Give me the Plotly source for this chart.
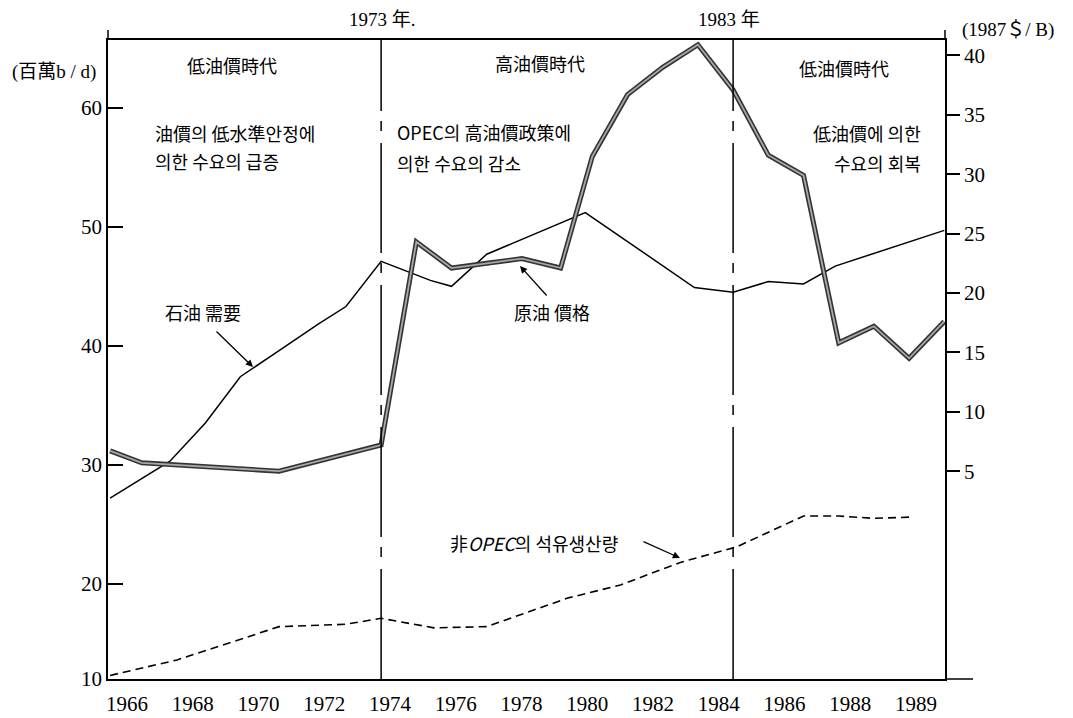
import plotly.graph_objects as go

# ---------------- data ----------------
# x positions are years on the chart's own year scale (1973 / 1983 divider lines)
demand_years = [1965.3, 1967, 1968, 1969, 1970.1, 1971.2, 1972, 1973, 1974.4, 1975, 1976, 1978.8,
                1981.9, 1983, 1984, 1985, 1985.9, 1989]
demand_mbd = [27.2, 30.3, 33.5, 37.4, 39.6, 41.8, 43.3, 47.1, 45.5, 45.0, 47.7, 51.2,
              44.9, 44.5, 45.4, 45.2, 46.7, 49.7]

price_years = [1965.3, 1966.2, 1970.1, 1973, 1974, 1975, 1976, 1977, 1978.1, 1979, 1980, 1981,
               1982, 1983, 1984, 1985, 1986, 1987, 1988, 1989]
price_1987usd = [6.7, 5.7, 5.0, 7.2, 24.3, 22.1, 22.5, 22.9, 22.1, 31.5, 36.7, 39.0,
                 40.9, 37.1, 31.6, 29.9, 15.8, 17.2, 14.5, 17.6]

nonopec_years = [1965.3, 1967.2, 1970.1, 1972, 1973, 1974.5, 1976, 1978.3, 1979.8, 1981.5,
                 1983.1, 1985, 1986, 1987, 1988]
nonopec_mbd = [12.3, 13.6, 16.4, 16.6, 17.1, 16.3, 16.4, 18.8, 19.9, 21.8,
               23.1, 25.7, 25.7, 25.5, 25.6]

era_years = [1973, 1983]
era_labels = ["1973 年.", "1983 年"]

x_tick_labels = ["1966", "1968", "1970", "1972", "1974", "1976", "1978", "1980",
                 "1982", "1984", "1986", "1988", "1989"]
left_tick_labels = ["10", "20", "30", "40", "50", "60"]
left_tick_vals = [12, 20, 30, 40, 50, 60]          # bottom of the (compressed) axis is labelled 10
right_tick_vals = [5, 10, 15, 20, 25, 30, 35, 40]

# ---------------- layout helpers ----------------
# page has an 8px body margin, so the figure is drawn 8px in from the window corner
OFF = 8
W, H = 1073 - OFF, 718 - OFF
L, R, T, B = 108, 945, 40, 679          # plot area in window pixels


def fx(px):
    return (px - L) / (R - L)


def fy(py):
    return (B - py) / (B - T)


NUM_FONT = "Liberation Serif, Noto Sans CJK KR, serif"
TXT_FONT = "Noto Sans CJK KR, Liberation Serif, sans-serif"

fig = go.Figure()

# non-OPEC production (dashed)
fig.add_trace(go.Scatter(x=nonopec_years, y=nonopec_mbd, mode="lines",
                         line=dict(color="black", width=1.6, dash="8px,5px"),
                         showlegend=False, hoverinfo="skip"))
# oil demand (thin solid)
fig.add_trace(go.Scatter(x=demand_years, y=demand_mbd, mode="lines",
                         line=dict(color="black", width=1.5),
                         showlegend=False, hoverinfo="skip"))
# crude price (thick double line) on right axis
fig.add_trace(go.Scatter(x=price_years, y=price_1987usd, mode="lines", yaxis="y2",
                         line=dict(color="#333333", width=5),
                         showlegend=False, hoverinfo="skip"))
fig.add_trace(go.Scatter(x=price_years, y=price_1987usd, mode="lines", yaxis="y2",
                         line=dict(color="#a8a8a8", width=1.8),
                         showlegend=False, hoverinfo="skip"))
# carrier for the evenly spaced year labels
fig.add_trace(go.Scatter(x=[0, len(x_tick_labels) - 1], y=[None, None], xaxis="x2",
                         mode="lines", showlegend=False, hoverinfo="skip"))

slot_w = 65.75
x2_lo = (L - 127) / slot_w
x2_hi = (R - 127) / slot_w

fig.update_layout(
    width=W, height=H,
    margin=dict(l=L - OFF, r=W - (R - OFF), t=T - OFF, b=H - (B - OFF), autoexpand=False),
    paper_bgcolor="white", plot_bgcolor="white",
    xaxis=dict(range=[1965.24, 1989.02], showgrid=False, zeroline=False, automargin=False,
               showticklabels=False, ticks="", showline=True, linecolor="black",
               linewidth=1.5, mirror=True),
    xaxis2=dict(overlaying="x", anchor="y", side="bottom", range=[x2_lo, x2_hi],
                automargin=False,
                tickmode="array", tickvals=list(range(len(x_tick_labels))),
                ticktext=x_tick_labels, showgrid=False, zeroline=False, showline=False,
                ticks="", ticklabelstandoff=10,
                tickfont=dict(family=NUM_FONT, size=21, color="black")),
    yaxis=dict(range=[12.0, 65.7], tickmode="array", tickvals=left_tick_vals,
               automargin=False,
               ticktext=left_tick_labels, ticks="inside", ticklen=15, tickwidth=1.5,
               tickcolor="black", showgrid=False, zeroline=False, showline=True,
               linecolor="black", linewidth=1.5,
               tickfont=dict(family=NUM_FONT, size=21, color="black")),
    yaxis2=dict(overlaying="y", side="right", anchor="x", range=[-12.5, 41.3],
                automargin=False,
                tickmode="array", tickvals=right_tick_vals, ticks="outside", ticklen=13,
                tickwidth=1.5, tickcolor="black", showgrid=False, zeroline=False,
                showline=True, linecolor="black", linewidth=1.5,
                tickfont=dict(family=NUM_FONT, size=21, color="black")),
)

# era divider lines
for yr in era_years:
    fig.add_shape(type="line", xref="x", yref="paper", x0=yr, x1=yr, y0=0, y1=1,
                  line=dict(color="black", width=1.5, dash="110px,12px,10px,10px"))

# small axis extensions as in the original
fig.add_shape(type="line", xref="paper", yref="paper", x0=1, x1=fx(973), y0=0, y1=0,
              line=dict(color="black", width=1.5))
fig.add_shape(type="line", xref="paper", yref="paper", x0=0, x1=0, y0=1, y1=fy(30),
              line=dict(color="black", width=1.5))
fig.add_shape(type="line", xref="paper", yref="paper", x0=1, x1=1, y0=1, y1=fy(30),
              line=dict(color="black", width=1.5))


def txt(text, px, py, xanchor="center", font=TXT_FONT, size=18):
    fig.add_annotation(text=text, xref="paper", yref="paper", x=fx(px), y=fy(py),
                       xanchor=xanchor, yanchor="middle", showarrow=False,
                       font=dict(family=font, size=size, color="black"))


def arrow(head_px, head_py, ax, ay):
    fig.add_annotation(text="", xref="paper", yref="paper", x=fx(head_px), y=fy(head_py),
                       ax=ax, ay=ay, showarrow=True, arrowhead=2, arrowsize=1.1,
                       arrowwidth=1.3, arrowcolor="black")


# axis titles and era labels
txt("(百萬b / d)", 54, 72, font=NUM_FONT, size=19)
txt("(1987＄/ B)", 1008, 30, font=NUM_FONT, size=19)
txt(era_labels[0], 382, 20, font=NUM_FONT, size=19)
txt(era_labels[1], 729, 20, font=NUM_FONT, size=19)

txt("低油價時代", 232, 65)
txt("高油價時代", 540, 63)
txt("低油價時代", 844, 68)

txt("油價의 低水準안정에", 153, 133, xanchor="left")
txt("의한 수요의 급증", 153, 161, xanchor="left")
txt("OPEC의 高油價政策에", 395, 132, xanchor="left")
txt("의한 수요의 감소", 395, 163, xanchor="left")
txt("低油價에 의한", 923, 133, xanchor="right")
txt("수요의 회복", 923, 163, xanchor="right")

txt("石油 需要", 203, 312)
arrow(253, 367, -38, -37)
txt("原油 價格", 552, 312)
arrow(520, 266, 28, 31)
txt("非<i>OPEC</i>의 석유생산량", 534, 543)
arrow(680, 558, -38, -17)

fig.write_html("out.html")
